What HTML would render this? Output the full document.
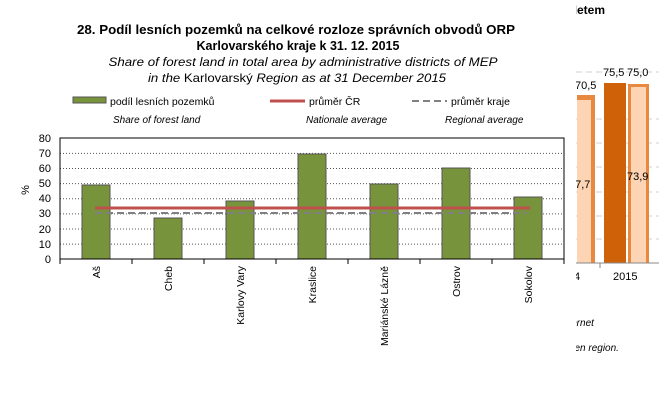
<!DOCTYPE html>
<html><head><meta charset="utf-8"><style>
html,body{margin:0;padding:0;background:#fff;}
svg{display:block;font-family:"Liberation Sans",Arial,sans-serif;}
</style></head><body>
<svg width="659" height="401" viewBox="0 0 659 401" xmlns="http://www.w3.org/2000/svg">
<!-- background chart (right side) -->
<g stroke="#d0d0d0" stroke-dasharray="6,4" stroke-width="1">
<line x1="576" y1="72" x2="659" y2="72"/><line x1="576" y1="119" x2="659" y2="119"/>
<line x1="576" y1="143" x2="659" y2="143"/><line x1="576" y1="167" x2="659" y2="167"/>
<line x1="576" y1="192" x2="659" y2="192"/><line x1="576" y1="216" x2="659" y2="216"/>
<line x1="576" y1="239" x2="659" y2="239"/>
</g>
<rect x="577" y="95" width="18" height="168" fill="#e8893f"/>
<rect x="577" y="100" width="14" height="163" fill="#fdd5b4"/>
<rect x="604" y="83" width="22" height="180" fill="#cf6208"/>
<rect x="628" y="84" width="21" height="179" fill="#e8893f"/>
<rect x="631" y="87" width="15" height="176" fill="#fdd5b4"/>
<line x1="576" y1="263" x2="659" y2="263" stroke="#888"/>
<line x1="600" y1="263" x2="600" y2="268" stroke="#888"/>
<g font-size="11" fill="#000">
<text x="575" y="89">70,5</text>
<text x="603" y="76">75,5</text>
<text x="627" y="76">75,0</text>
<text x="569" y="188">67,7</text>
<text x="627" y="180">73,9</text>
<text x="574" y="280">4</text>
<text x="613" y="280">2015</text>
</g>
<text x="567" y="14" font-size="12" font-weight="bold">Metem</text>
<text x="560" y="326" font-size="10" font-style="italic">Internet</text>
<text x="545" y="351" font-size="10" font-style="italic">the given region.</text>
<!-- white panel -->
<rect x="0" y="0" width="576" height="401" fill="#fff"/>
<!-- titles -->
<g text-anchor="middle" fill="#000">
<text x="296" y="34" font-size="12.5" font-weight="bold" textLength="438" lengthAdjust="spacingAndGlyphs">28. Podíl lesních pozemků na celkové rozloze správních obvodů ORP</text>
<text x="298" y="50" font-size="12.5" font-weight="bold">Karlovarského kraje k 31. 12. 2015</text>
<text x="303" y="66" font-size="12" font-style="italic" textLength="389" lengthAdjust="spacingAndGlyphs">Share of forest land in total area by administrative districts of MEP</text>
<text x="297" y="82" font-size="12" textLength="298" lengthAdjust="spacingAndGlyphs"><tspan font-style="italic">in the </tspan>Karlovarský<tspan font-style="italic"> Region as at 31 December 2015</tspan></text>
</g>
<!-- legend -->
<rect x="73" y="97" width="33" height="6" fill="#77933c" stroke="#555" stroke-width="1"/>
<text x="110" y="105" font-size="10.5">podíl lesních pozemků</text>
<line x1="270" y1="101" x2="305" y2="101" stroke="#c0504d" stroke-width="3"/>
<text x="309" y="105" font-size="10.5">průměr ČR</text>
<line x1="412" y1="101" x2="447" y2="101" stroke="#808080" stroke-width="2" stroke-dasharray="7,4"/>
<text x="451" y="105" font-size="10.5">průměr kraje</text>
<g font-size="10" font-style="italic">
<text x="113" y="123">Share of forest land</text>
<text x="306" y="123">Nationale average</text>
<text x="445" y="123">Regional average</text>
</g>
<!-- gridlines -->
<g stroke="#555" stroke-dasharray="1,2" stroke-width="1">
<line x1="60" y1="153.4" x2="564" y2="153.4"/>
<line x1="60" y1="168.5" x2="564" y2="168.5"/>
<line x1="60" y1="183.6" x2="564" y2="183.6"/>
<line x1="60" y1="198.8" x2="564" y2="198.8"/>
<line x1="60" y1="213.9" x2="564" y2="213.9"/>
<line x1="60" y1="229" x2="564" y2="229"/>
<line x1="60" y1="244.1" x2="564" y2="244.1"/>
</g>
<!-- bars -->
<g fill="#77933c" stroke="#555" stroke-width="1">
<rect x="82" y="185" width="28" height="74"/>
<rect x="154" y="218" width="28" height="41"/>
<rect x="226" y="201" width="28" height="58"/>
<rect x="298" y="154" width="28" height="105"/>
<rect x="370" y="184" width="28" height="75"/>
<rect x="442" y="168" width="28" height="91"/>
<rect x="514" y="197" width="28" height="62"/>
</g>
<line x1="95" y1="213" x2="527" y2="213" stroke="#808080" stroke-width="2" stroke-dasharray="7,4"/>
<line x1="95" y1="208" x2="530" y2="208" stroke="#c0504d" stroke-width="3"/>
<!-- frame/axes -->
<rect x="60" y="138" width="504" height="121" fill="none" stroke="#000" stroke-width="1"/>
<g stroke="#000">
<line x1="60" y1="259" x2="60" y2="264"/><line x1="132" y1="259" x2="132" y2="264"/>
<line x1="204" y1="259" x2="204" y2="264"/><line x1="276" y1="259" x2="276" y2="264"/>
<line x1="348" y1="259" x2="348" y2="264"/><line x1="420" y1="259" x2="420" y2="264"/>
<line x1="492" y1="259" x2="492" y2="264"/><line x1="564" y1="259" x2="564" y2="264"/>
</g>
<g font-size="11" text-anchor="end">
<text x="51" y="142">80</text><text x="51" y="157">70</text><text x="51" y="172">60</text>
<text x="51" y="187">50</text><text x="51" y="202">40</text><text x="51" y="217">30</text>
<text x="51" y="233">20</text><text x="51" y="248">10</text><text x="51" y="263">0</text>
</g>
<text transform="translate(29,190) rotate(-90)" font-size="11" text-anchor="middle">%</text>
<g font-size="10.5" text-anchor="end">
<text transform="translate(100,266) rotate(-90)">Aš</text>
<text transform="translate(172,266) rotate(-90)">Cheb</text>
<text transform="translate(244,266) rotate(-90)">Karlovy Vary</text>
<text transform="translate(316,266) rotate(-90)">Kraslice</text>
<text transform="translate(388,266) rotate(-90)">Mariánské Lázně</text>
<text transform="translate(460,266) rotate(-90)">Ostrov</text>
<text transform="translate(532,266) rotate(-90)">Sokolov</text>
</g>
</svg>
</body></html>
